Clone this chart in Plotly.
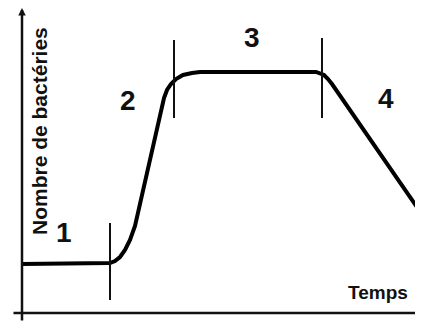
import plotly.graph_objects as go

# Courbe de croissance bactérienne (unités arbitraires)
temps = [22, 104, 110, 115, 120, 125, 130, 135, 161, 164, 167, 171, 176, 183, 192, 200,
         316, 320, 324, 328, 332, 421]
nombre = [58, 58, 59, 61, 65, 72, 82, 96, 212, 224, 232, 238, 243, 247, 249, 250,
          250, 249, 247, 243, 238, 109]

# Limites des phases (traits verticaux)
bornes_temps = [110, 174, 322]
bornes_bas = [22, 204, 204]
bornes_haut = [99, 282, 284]

# Étiquettes des phases
phases = ["1", "2", "3", "4"]
phases_x = [64, 128, 252, 386]
phases_y = [90, 222, 285, 224]

W, H = 415, 314   # la page ajoute une marge de 8 px
fig = go.Figure()

fig.add_trace(go.Scatter(x=temps, y=nombre, mode="lines",
                         line=dict(color="#000000", width=4),
                         hoverinfo="skip", showlegend=False))

shapes = []
for bx, lo, hi in zip(bornes_temps, bornes_bas, bornes_haut):
    shapes.append(dict(type="line", xref="x", yref="y", x0=bx, x1=bx, y0=lo, y1=hi,
                       line=dict(color="#111111", width=2)))

annotations = []
# axes avec flèches
annotations.append(dict(x=22, y=314, ax=22, ay=0, xref="x", yref="y", axref="x", ayref="y",
                        text="", showarrow=True, arrowhead=2, arrowsize=0.6, arrowwidth=2.5,
                        arrowcolor="#111111"))
annotations.append(dict(x=423, y=9, ax=12, ay=9, xref="x", yref="y", axref="x", ayref="y",
                        text="", showarrow=True, arrowhead=2, arrowsize=0.6, arrowwidth=2.5,
                        arrowcolor="#111111"))

for t, px, py in zip(phases, phases_x, phases_y):
    annotations.append(dict(x=px, y=py, xref="x", yref="y", text=t, showarrow=False,
                            font=dict(family="Liberation Sans", size=28, color="#111111", weight="bold")))

annotations.append(dict(x=378, y=30, xref="x", yref="y", text="Temps", showarrow=False,
                        font=dict(family="Liberation Sans", size=19, color="#111111", weight="bold")))
annotations.append(dict(x=39, y=191, xref="x", yref="y", text="Nombre de bactéries", textangle=-90,
                        showarrow=False,
                        font=dict(family="Liberation Sans", size=21, color="#111111", weight="bold")))

fig.update_layout(width=W, height=H, margin=dict(l=0, r=0, t=0, b=0),
                  paper_bgcolor="white", plot_bgcolor="white",
                  xaxis=dict(range=[8, 423], visible=False, fixedrange=True),
                  yaxis=dict(range=[0, 314], visible=False, fixedrange=True),
                  shapes=shapes, annotations=annotations)

fig.write_html("out.html")
